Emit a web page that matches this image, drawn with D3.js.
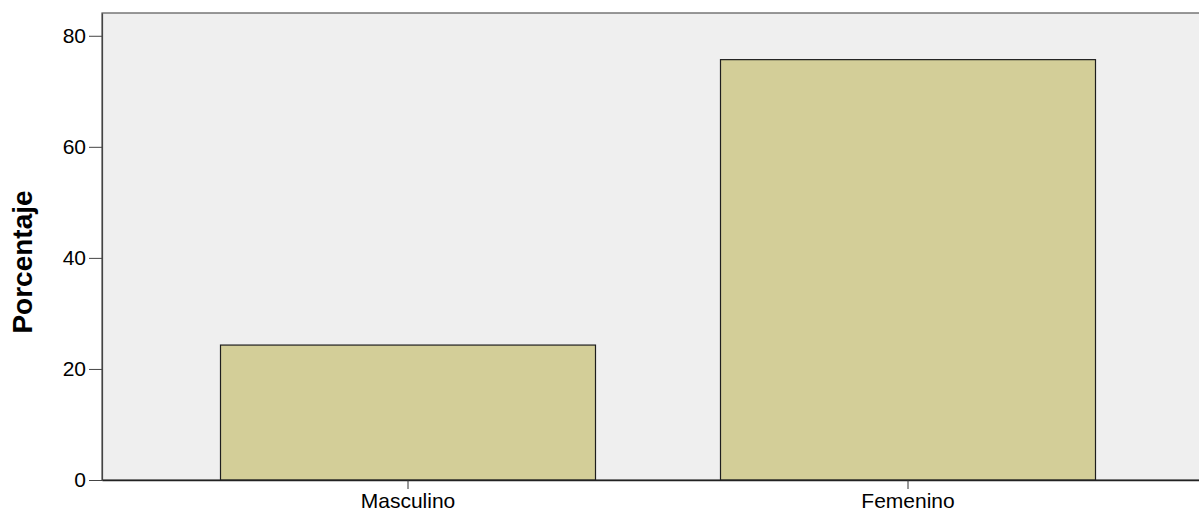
<!DOCTYPE html>
<html><head><meta charset="utf-8">
<script src="https://cdn.jsdelivr.net/npm/d3@7"></script>
<style>body{margin:0;background:#fff}svg{display:block}text{font-family:"Liberation Sans",Arial,sans-serif}</style>
</head><body><svg id="c" width="1199" height="515"></svg>
<script>
const categories = ["Masculino", "Femenino"];
const values = [24.3, 75.7];
const yTicks = [0, 20, 40, 60, 80];
const yTitle = "Porcentaje";

const svg = d3.select("#c");
const L = 102, R = 1214, T = 13, B = 480;
const x = d3.scaleBand().domain(categories).range([L, R]).paddingInner(0.25).paddingOuter(0.237);
const y = d3.scaleLinear().domain([0, 84.1]).range([B, T]);

svg.append("rect").attr("x", L).attr("y", T).attr("width", R - L).attr("height", B - T)
  .attr("fill", "#efefef").attr("stroke", "#555").attr("stroke-width", 1.2);

svg.selectAll("rect.bar").data(categories).enter().append("rect").attr("class", "bar")
  .attr("x", d => x(d)).attr("width", x.bandwidth())
  .attr("y", (d, i) => y(values[i])).attr("height", (d, i) => B - y(values[i]))
  .attr("fill", "#d3ce98").attr("stroke", "#1e1e1e").attr("stroke-width", 1.2);

const ya = svg.append("g").attr("transform", `translate(${L},0)`)
  .call(d3.axisLeft(y).tickValues(yTicks).tickSize(13).tickSizeOuter(0).tickPadding(3).tickFormat(d3.format("d")));
ya.select(".domain").attr("stroke", "#444").attr("stroke-width", 1.2);
ya.selectAll(".tick line").attr("stroke", "#444");
ya.selectAll(".tick text").attr("font-size", 21).attr("fill", "#000").attr("font-family", "Liberation Sans, Arial, sans-serif");

const xa = svg.append("g").attr("transform", `translate(0,${B})`)
  .call(d3.axisBottom(x).tickSize(9).tickPadding(4).tickSizeOuter(0));
xa.select(".domain").attr("stroke", "#222").attr("stroke-width", 1.6);
xa.selectAll(".tick line").attr("stroke", "#333");
xa.selectAll(".tick text").attr("font-size", 21).attr("fill", "#000").attr("font-family", "Liberation Sans, Arial, sans-serif");

svg.append("text").attr("transform", `translate(32,262) rotate(-90)`)
  .attr("text-anchor", "middle").attr("font-size", 28).attr("font-weight", "bold").text(yTitle);
</script></body></html>
